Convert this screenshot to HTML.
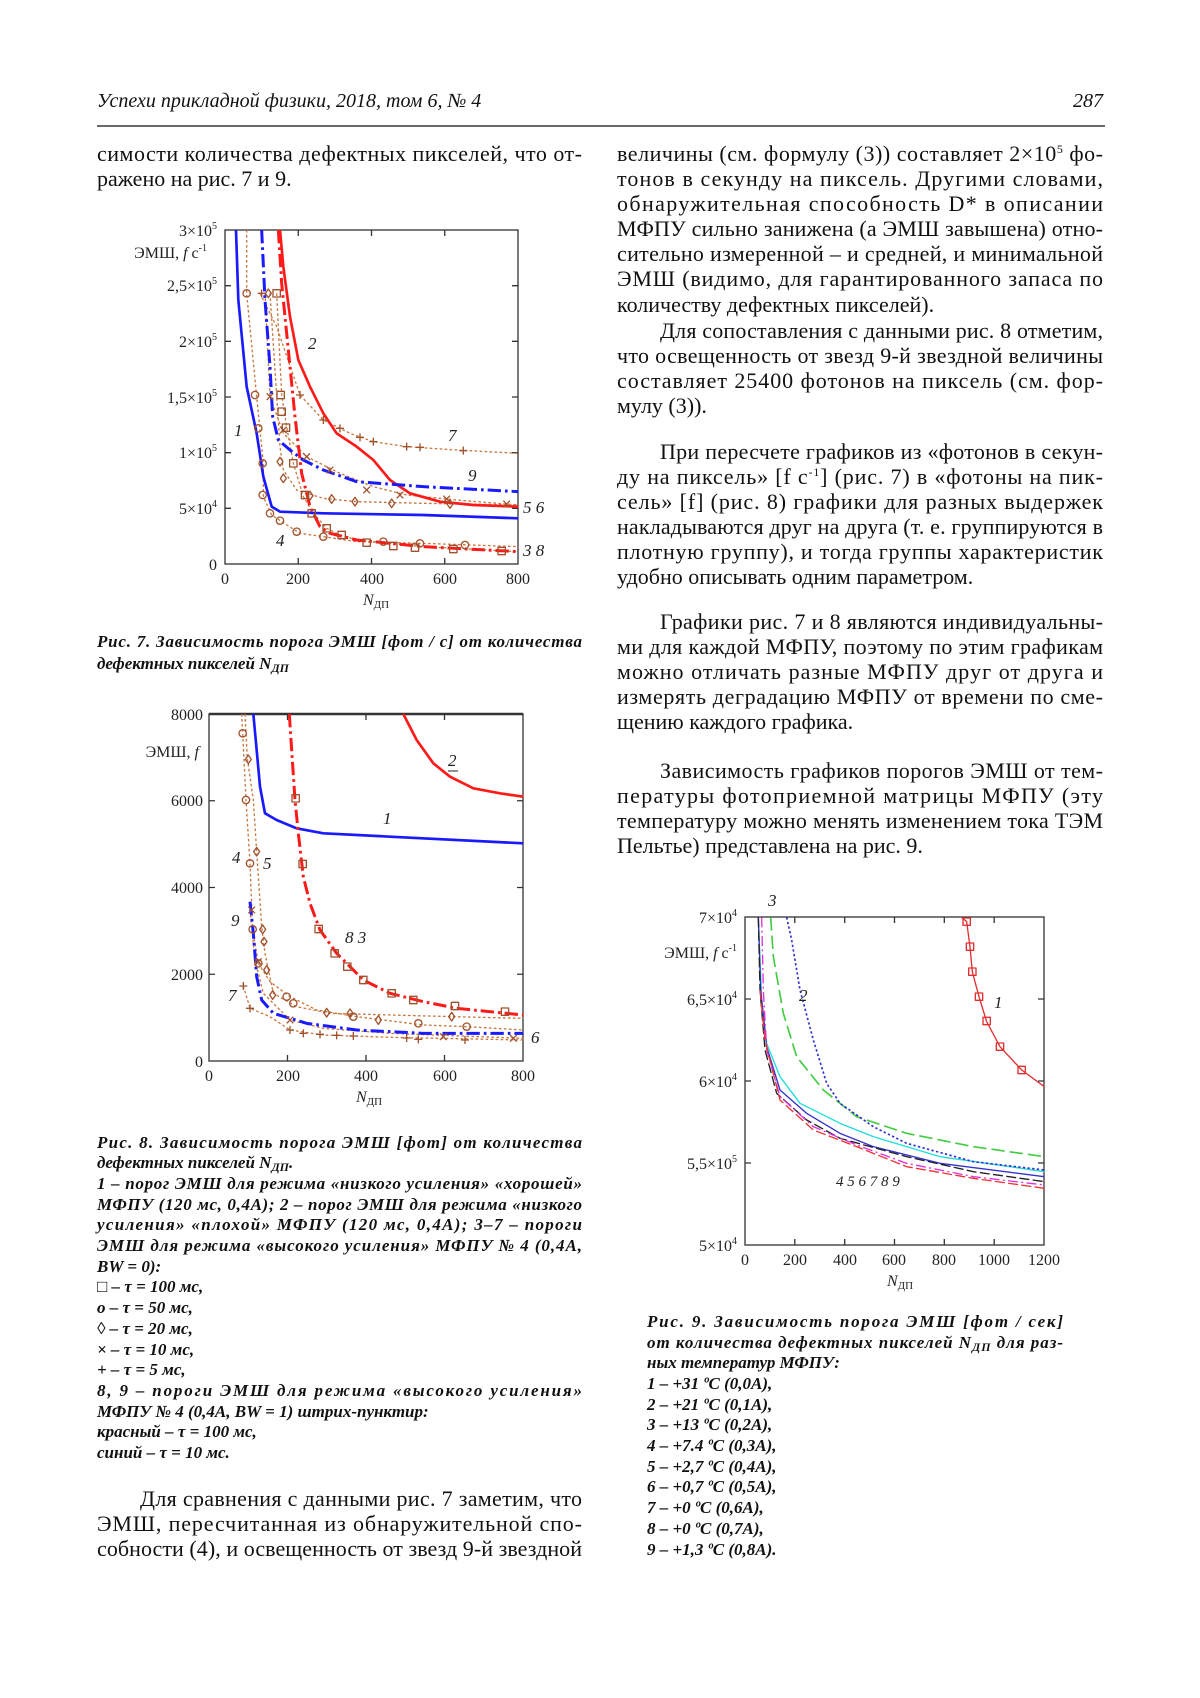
<!DOCTYPE html>
<html><head><meta charset="utf-8"><style>
html,body{margin:0;padding:0;background:#fff}
svg{display:block}
.t{font-family:"Liberation Serif",serif;font-size:22px;fill:#111}
.c{font-family:"Liberation Serif",serif;font-size:17px;font-weight:bold;font-style:italic;fill:#111}
.a{font-family:"Liberation Serif",serif;font-size:16px;fill:#222}
.l{font-family:"Liberation Serif",serif;font-size:17px;font-style:italic;fill:#222}
</style></head><body>
<svg width="1200" height="1698" viewBox="0 0 1200 1698" xmlns="http://www.w3.org/2000/svg">
<defs>
<g id="sq"><rect x="-11" y="-11" width="22" height="22" fill="none" stroke="#a0522d" stroke-width="4"/></g>
<g id="ci"><circle r="11" fill="none" stroke="#a0522d" stroke-width="4"/></g>
<g id="di"><path d="M0 -13 L9 0 L0 13 L-9 0Z" fill="none" stroke="#a0522d" stroke-width="4"/></g>
<g id="xx"><path d="M-10 -10 L10 10 M-10 10 L10 -10" stroke="#a0522d" stroke-width="4"/></g>
<g id="pl"><path d="M-12 0 L12 0 M0 -12 L0 12" stroke="#a0522d" stroke-width="4"/></g>
<g id="rs"><rect x="-11" y="-11" width="22" height="22" fill="none" stroke="#e03030" stroke-width="4"/></g>
</defs>

<text x="97" y="107" style="font-family:'Liberation Serif',serif;font-size:20px;font-style:italic" fill="#111">Успехи прикладной физики, 2018, том 6, № 4</text>
<text x="1103" y="107" text-anchor="end" style="font-family:'Liberation Serif',serif;font-size:20px;font-style:italic" fill="#111">287</text>
<line x1="97" y1="126" x2="1105" y2="126" stroke="#111" stroke-width="1.3"/>

<text class="t" x="97" y="161" textLength="485" lengthAdjust="spacing">симости количества дефектных пикселей, что от-</text>
<text class="t" x="97" y="186">ражено на рис. 7 и 9.</text>

<text class="c" x="97" y="647" textLength="485" lengthAdjust="spacing">Рис. 7. Зависимость порога ЭМШ [фот / с] от количества</text>
<text class="c" x="97" y="669">дефектных пикселей N<tspan font-size="12" dy="3">ДП</tspan></text>

<g class="c">
<text x="97" y="1148" textLength="485" lengthAdjust="spacing">Рис. 8. Зависимость порога ЭМШ [фот] от количества</text>
<text x="97" y="1168">дефектных пикселей N<tspan font-size="12" dy="3">ДП</tspan><tspan dy="-3">.</tspan></text>
<text x="97" y="1189" textLength="485" lengthAdjust="spacing">1 – порог ЭМШ для режима «низкого усиления» «хорошей»</text>
<text x="97" y="1210" textLength="485" lengthAdjust="spacing">МФПУ (120 мс, 0,4А); 2 – порог ЭМШ для режима «низкого</text>
<text x="97" y="1230" textLength="485" lengthAdjust="spacing">усиления» «плохой» МФПУ (120 мс, 0,4А); 3–7 – пороги</text>
<text x="97" y="1251" textLength="485" lengthAdjust="spacing">ЭМШ для режима «высокого усиления» МФПУ № 4 (0,4А,</text>
<text x="97" y="1272">BW = 0):</text>
<text x="97" y="1292">□ – τ = 100 мс,</text>
<text x="97" y="1313">о – τ = 50 мс,</text>
<text x="97" y="1334">◊ – τ = 20 мс,</text>
<text x="97" y="1355">× –  τ = 10 мс,</text>
<text x="97" y="1375">+ –  τ = 5 мс,</text>
<text x="97" y="1396" textLength="485" lengthAdjust="spacing">8, 9 – пороги ЭМШ для режима «высокого усиления»</text>
<text x="97" y="1417">МФПУ № 4 (0,4А, BW = 1) штрих-пунктир:</text>
<text x="97" y="1437">красный – τ = 100 мс,</text>
<text x="97" y="1458">синий – τ = 10 мс.</text>
</g>

<text class="t" x="140" y="1506" textLength="442" lengthAdjust="spacing">Для сравнения с данными рис. 7 заметим, что</text>
<text class="t" x="97" y="1531" textLength="485" lengthAdjust="spacing">ЭМШ, пересчитанная из обнаружительной спо-</text>
<text class="t" x="97" y="1556" textLength="485" lengthAdjust="spacing">собности (4), и освещенность от звезд 9-й звездной</text>

<g class="t">
<text x="617" y="161" textLength="486" lengthAdjust="spacing">величины (см. формулу (3)) составляет 2×10<tspan font-size="12" dy="-8">5</tspan><tspan dy="8"> фо-</tspan></text>
<text x="617" y="186" textLength="486" lengthAdjust="spacing">тонов в секунду на пиксель. Другими словами,</text>
<text x="617" y="211" textLength="486" lengthAdjust="spacing">обнаружительная способность D* в описании</text>
<text x="617" y="236" textLength="486" lengthAdjust="spacing">МФПУ сильно занижена (а ЭМШ завышена) отно-</text>
<text x="617" y="261" textLength="486" lengthAdjust="spacing">сительно измеренной – и средней, и минимальной</text>
<text x="617" y="286" textLength="486" lengthAdjust="spacing">ЭМШ (видимо, для гарантированного запаса по</text>
<text x="617" y="312">количеству дефектных пикселей).</text>
<text x="660" y="338" textLength="443" lengthAdjust="spacing">Для сопоставления с данными рис. 8 отметим,</text>
<text x="617" y="363" textLength="486" lengthAdjust="spacing">что освещенность от звезд 9-й звездной величины</text>
<text x="617" y="388" textLength="486" lengthAdjust="spacing">составляет  25400 фотонов на пиксель (см. фор-</text>
<text x="617" y="413">мулу (3)).</text>
<text x="660" y="459" textLength="443" lengthAdjust="spacing">При пересчете графиков из «фотонов в секун-</text>
<text x="617" y="484" textLength="486" lengthAdjust="spacing">ду на пиксель» [f c<tspan font-size="12" dy="-8">-1</tspan><tspan dy="8">] (рис. 7) в «фотоны на пик-</tspan></text>
<text x="617" y="509" textLength="486" lengthAdjust="spacing">сель»  [f] (рис. 8) графики для разных выдержек</text>
<text x="617" y="534" textLength="486" lengthAdjust="spacing">накладываются друг на друга (т. е. группируются в</text>
<text x="617" y="559" textLength="486" lengthAdjust="spacing">плотную группу), и тогда группы характеристик</text>
<text x="617" y="584">удобно описывать одним параметром.</text>
<text x="660" y="629" textLength="443" lengthAdjust="spacing">Графики рис. 7 и 8 являются индивидуальны-</text>
<text x="617" y="654" textLength="486" lengthAdjust="spacing">ми для каждой МФПУ, поэтому по этим графикам</text>
<text x="617" y="679" textLength="486" lengthAdjust="spacing">можно отличать разные МФПУ друг от друга и</text>
<text x="617" y="704" textLength="486" lengthAdjust="spacing">измерять деградацию МФПУ от времени  по сме-</text>
<text x="617" y="729">щению каждого графика.</text>
<text x="660" y="778" textLength="443" lengthAdjust="spacing">Зависимость графиков порогов ЭМШ от тем-</text>
<text x="617" y="803" textLength="486" lengthAdjust="spacing">пературы фотоприемной матрицы МФПУ (эту</text>
<text x="617" y="828" textLength="486" lengthAdjust="spacing">температуру можно менять изменением тока ТЭМ</text>
<text x="617" y="853">Пельтье) представлена на рис. 9.</text>
</g>

<g class="c">
<text x="647" y="1327" textLength="416" lengthAdjust="spacing">Рис. 9. Зависимость порога ЭМШ [фот / сек]</text>
<text x="647" y="1348" textLength="416" lengthAdjust="spacing">от количества дефектных пикселей N<tspan font-size="12" dy="3">ДП</tspan><tspan dy="-3"> для раз-</tspan></text>
<text x="647" y="1368">ных температур МФПУ:</text>
<text x="647" y="1389">1 – +31 ºС (0,0А),</text>
<text x="647" y="1410">2 – +21 ºС (0,1А),</text>
<text x="647" y="1430">3 – +13 ºС (0,2А),</text>
<text x="647" y="1451">4 – +7.4 ºС (0,3А),</text>
<text x="647" y="1472">5 – +2,7 ºС (0,4А),</text>
<text x="647" y="1492">6 – +0,7 ºС (0,5А),</text>
<text x="647" y="1513">7 – +0 ºС (0,6А),</text>
<text x="647" y="1534">8 – +0 ºС (0,7А),</text>
<text x="647" y="1555">9 – +1,3 ºС (0,8А).</text>
</g>

<!-- CHART 7 -->
<g stroke="#333" stroke-width="1.3" fill="none">
<rect x="225" y="230" width="293" height="334"/>
<path d="M225 285.7h6M225 341.3h6M225 397h6M225 452.7h6M225 508.3h6M518 285.7h-6M518 341.3h-6M518 397h-6M518 452.7h-6M518 508.3h-6M298.25 564v-6M371.5 564v-6M444.75 564v-6M298.25 230v6M371.5 230v6M444.75 230v6"/>
</g>
<g transform="translate(90,200) scale(0.33333)" fill="none" stroke-linejoin="round">
<polyline stroke="#c87941" stroke-width="4" stroke-dasharray="8 7" points="510,280 560,380 630,585 700,660 780,700 850,725 950,740 1100,750 1285,760"/>
<polyline stroke="#c87941" stroke-width="4" stroke-dasharray="8 7" points="525,280 540,590 580,700 650,770 750,820 850,860 950,885 1100,900 1285,915"/>
<polyline stroke="#c87941" stroke-width="4" stroke-dasharray="8 7" points="540,280 570,740 580,810 620,870 700,895 800,905 1000,910 1285,915"/>
<polyline stroke="#c87941" stroke-width="4" stroke-dasharray="8 7" points="470,90 470,280 500,590 510,690 520,790 520,890 545,945 575,965 630,1000 700,1010 800,1025 1000,1030 1285,1040"/>
<polyline stroke="#c87941" stroke-width="4" stroke-dasharray="8 7" points="560,280 575,585 590,680 610,790 640,890 670,940 710,985 750,1005 800,1020 1000,1040 1285,1055"/>
<polyline stroke="#1a1aff" stroke-width="8" points="438,90 445,300 470,560 500,700 520,830 545,920 570,935 700,940 1000,945 1285,955"/>
<polyline stroke="#ff1a1a" stroke-width="8" points="570,90 580,200 600,350 625,480 660,560 700,640 740,700 800,740 850,780 900,840 960,880 1050,905 1150,915 1285,920"/>
<polyline stroke="#1a1aff" stroke-width="9" stroke-dasharray="40 12 8 12" points="515,90 525,300 540,500 548,650 565,720 600,750 640,780 700,810 800,845 1000,860 1285,875"/>
<polyline stroke="#ff1a1a" stroke-width="9" stroke-dasharray="40 12 8 12" points="565,90 575,250 600,500 615,650 635,820 660,920 690,980 720,1000 800,1020 1000,1040 1285,1055"/>
<use href="#pl" x="630" y="585"/><use href="#pl" x="700" y="660"/><use href="#pl" x="750" y="685"/><use href="#pl" x="810" y="712"/><use href="#pl" x="850" y="725"/><use href="#pl" x="950" y="740"/><use href="#pl" x="990" y="742"/><use href="#pl" x="1120" y="752"/>
<use href="#xx" x="540" y="590"/><use href="#xx" x="580" y="690"/><use href="#xx" x="650" y="770"/><use href="#xx" x="720" y="810"/><use href="#xx" x="830" y="870"/><use href="#xx" x="930" y="885"/><use href="#xx" x="1070" y="897"/><use href="#xx" x="1250" y="912"/>
<use href="#di" x="570" y="785"/><use href="#di" x="580" y="835"/><use href="#di" x="660" y="887"/><use href="#di" x="725" y="897"/><use href="#di" x="795" y="905"/><use href="#di" x="905" y="910"/><use href="#di" x="1080" y="912"/>
<use href="#ci" x="470" y="280"/><use href="#ci" x="495" y="585"/><use href="#ci" x="505" y="685"/><use href="#ci" x="518" y="790"/><use href="#ci" x="518" y="885"/><use href="#ci" x="540" y="940"/><use href="#ci" x="570" y="962"/><use href="#ci" x="620" y="995"/><use href="#ci" x="700" y="1010"/><use href="#ci" x="880" y="1025"/><use href="#ci" x="990" y="1030"/><use href="#ci" x="1125" y="1035"/>
<use href="#sq" x="560" y="280"/><use href="#sq" x="572" y="585"/><use href="#sq" x="575" y="635"/><use href="#sq" x="588" y="683"/><use href="#sq" x="610" y="790"/><use href="#sq" x="645" y="885"/><use href="#sq" x="665" y="940"/><use href="#sq" x="710" y="985"/><use href="#sq" x="755" y="1005"/><use href="#sq" x="830" y="1028"/><use href="#sq" x="910" y="1038"/><use href="#sq" x="975" y="1043"/><use href="#sq" x="1090" y="1047"/><use href="#sq" x="1235" y="1053"/>
<use href="#di" x="535" y="280"/><use href="#pl" x="515" y="280"/>
</g>
<g class="a" text-anchor="end">
<text x="217" y="236">3×10<tspan font-size="10" dy="-7">5</tspan></text>
<text x="217" y="291">2,5×10<tspan font-size="10" dy="-7">5</tspan></text>
<text x="217" y="347">2×10<tspan font-size="10" dy="-7">5</tspan></text>
<text x="217" y="403">1,5×10<tspan font-size="10" dy="-7">5</tspan></text>
<text x="217" y="458">1×10<tspan font-size="10" dy="-7">5</tspan></text>
<text x="217" y="514">5×10<tspan font-size="10" dy="-7">4</tspan></text>
<text x="217" y="570">0</text>
<text x="207" y="258">ЭМШ, <tspan font-style="italic">f</tspan> c<tspan font-size="10" dy="-7">-1</tspan></text>
</g>
<g class="a" text-anchor="middle">
<text x="225" y="584">0</text><text x="298" y="584">200</text><text x="372" y="584">400</text><text x="445" y="584">600</text><text x="518" y="584">800</text>
<text x="376" y="605"><tspan font-style="italic">N</tspan><tspan font-size="11" dy="3">ДП</tspan></text>
</g>
<g class="l">
<text x="234" y="436">1</text><text x="308" y="349">2</text><text x="448" y="441">7</text><text x="468" y="481">9</text><text x="523" y="513">5 6</text><text x="276" y="546">4</text><text x="523" y="556">3 8</text>
</g>

<!-- CHART 8 -->
<g stroke="#333" stroke-width="1.3" fill="none">
<rect x="209" y="714" width="314" height="347"/>
<path d="M209 800.75h6M209 887.5h6M209 974.25h6M523 800.75h-6M523 887.5h-6M523 974.25h-6M287.5 1061v-6M366 1061v-6M444.5 1061v-6M287.5 714v6M366 714v6M444.5 714v6"/>
<path d="M209 714h314" stroke-width="2.5"/>
</g>
<g transform="translate(90,700) scale(0.33333)" fill="none" stroke-linejoin="round">
<polyline stroke="#c87941" stroke-width="4" stroke-dasharray="8 7" points="455,42 458,100 468,300 480,490 488,690 505,790 540,845 600,890 680,930 800,950 1000,975 1130,980 1300,990"/>
<polyline stroke="#c87941" stroke-width="4" stroke-dasharray="8 7" points="465,42 472,175 490,300 500,455 515,680 525,760 550,880 620,920 720,940 900,945 1090,950 1300,955"/>
<polyline stroke="#c87941" stroke-width="4" stroke-dasharray="8 7" points="480,630 495,780 520,880 600,960 700,985 900,1000 1300,1015"/>
<polyline stroke="#c87941" stroke-width="4" stroke-dasharray="8 7" points="460,858 480,925 540,950 600,990 700,1005 900,1012 1300,1020"/>
<polyline stroke="#1a1aff" stroke-width="8" points="490,42 500,150 510,260 525,340 560,360 620,385 700,400 900,410 1300,430"/>
<polyline stroke="#ff1a1a" stroke-width="8" points="940,42 980,120 1030,190 1080,230 1150,265 1230,280 1300,290"/>
<polyline stroke="#ff1a1a" stroke-width="9" stroke-dasharray="40 12 8 12" points="598,42 605,150 615,300 625,400 640,530 660,610 690,690 740,760 820,840 900,880 1000,905 1100,925 1300,945"/>
<polyline stroke="#1a1aff" stroke-width="9" stroke-dasharray="40 12 8 12" points="480,605 490,700 500,830 515,900 550,940 650,970 800,990 1000,1000 1300,1000"/>
<use href="#sq" x="617" y="295"/><use href="#sq" x="638" y="492"/><use href="#sq" x="686" y="687"/><use href="#sq" x="734" y="760"/><use href="#sq" x="772" y="800"/><use href="#sq" x="820" y="840"/><use href="#sq" x="905" y="880"/><use href="#sq" x="970" y="900"/><use href="#sq" x="1095" y="918"/><use href="#sq" x="1245" y="935"/>
<use href="#ci" x="458" y="100"/><use href="#ci" x="468" y="300"/><use href="#ci" x="480" y="490"/><use href="#ci" x="488" y="688"/><use href="#ci" x="505" y="790"/><use href="#ci" x="590" y="890"/><use href="#ci" x="610" y="910"/><use href="#ci" x="790" y="950"/><use href="#ci" x="985" y="970"/><use href="#ci" x="1130" y="980"/>
<use href="#di" x="475" y="178"/><use href="#di" x="500" y="455"/><use href="#di" x="518" y="688"/><use href="#di" x="522" y="725"/><use href="#di" x="530" y="810"/><use href="#di" x="548" y="885"/><use href="#di" x="710" y="938"/><use href="#di" x="780" y="940"/><use href="#di" x="865" y="960"/><use href="#di" x="1085" y="950"/>
<use href="#xx" x="485" y="630"/><use href="#xx" x="505" y="785"/><use href="#xx" x="600" y="960"/><use href="#xx" x="1060" y="1010"/><use href="#xx" x="1270" y="1015"/>
<use href="#pl" x="460" y="858"/><use href="#pl" x="480" y="925"/><use href="#pl" x="600" y="990"/><use href="#pl" x="640" y="1000"/><use href="#pl" x="690" y="1003"/><use href="#pl" x="740" y="1006"/><use href="#pl" x="790" y="1008"/><use href="#pl" x="950" y="1014"/><use href="#pl" x="985" y="1018"/><use href="#pl" x="1125" y="1020"/>
</g>
<g class="a" text-anchor="end">
<text x="203" y="720">8000</text><text x="203" y="806">6000</text><text x="203" y="893">4000</text><text x="203" y="980">2000</text><text x="203" y="1067">0</text>
<text x="199" y="757">ЭМШ, <tspan font-style="italic">f</tspan></text>
</g>
<g class="a" text-anchor="middle">
<text x="209" y="1081">0</text><text x="288" y="1081">200</text><text x="366" y="1081">400</text><text x="445" y="1081">600</text><text x="523" y="1081">800</text>
<text x="369" y="1102"><tspan font-style="italic">N</tspan><tspan font-size="11" dy="3">ДП</tspan></text>
</g>
<g class="l">
<text x="448" y="766">2</text><line x1="448" y1="771" x2="458" y2="771" stroke="#222" stroke-width="1"/>
<text x="383" y="824">1</text><text x="232" y="863">4</text><text x="263" y="869">5</text><text x="231" y="926">9</text><text x="345" y="943">8 3</text><text x="228" y="1001">7</text><text x="531" y="1043">6</text>
</g>

<!-- CHART 9 -->
<g stroke="#333" stroke-width="1.3" fill="none">
<rect x="745" y="917" width="299" height="328"/>
<path d="M745 999h6M745 1081h6M745 1163h6M1044 999h-6M1044 1081h-6M1044 1163h-6M794.8 1245v-6M844.7 1245v-6M894.5 1245v-6M944.3 1245v-6M994.2 1245v-6M794.8 917v6M844.7 917v6M894.5 917v6M944.3 917v6M994.2 917v6"/>
</g>
<g transform="translate(640,890) scale(0.33333)" fill="none" stroke-linejoin="round">
<polyline stroke="#22dddd" stroke-width="4" points="355,82 365,330 380,460 420,560 480,640 600,700 700,740 900,800 1213,845"/>
<polyline stroke="#3333cc" stroke-width="4" points="355,82 362,300 380,470 420,600 500,670 600,730 700,770 900,820 1213,860"/>
<polyline stroke="#222" stroke-width="4" stroke-dasharray="30 10" points="355,82 360,300 375,480 410,610 500,690 600,745 800,800 1000,845 1213,875"/>
<polyline stroke="#dd33dd" stroke-width="4" stroke-dasharray="30 10 6 10" points="365,82 370,300 380,480 420,620 520,710 650,765 800,820 1000,860 1213,885"/>
<polyline stroke="#ee3333" stroke-width="4" stroke-dasharray="30 10" points="360,300 375,450 420,630 520,720 650,770 800,830 1000,865 1213,895"/>
<polyline stroke="#44cc44" stroke-width="5" stroke-dasharray="40 15" points="392,82 400,200 430,370 470,500 550,600 650,680 800,730 1000,770 1213,800"/>
<polyline stroke="#3333cc" stroke-width="5" stroke-dasharray="7 7" points="440,82 455,150 480,300 520,450 560,580 600,640 700,710 800,760 1000,815 1213,840"/>
<polyline stroke="#e03030" stroke-width="4" points="965,82 980,95 990,170 997,245 1017,320 1040,395 1080,470 1145,540 1213,590"/>
<use href="#rs" x="980" y="95"/><use href="#rs" x="990" y="170"/><use href="#rs" x="997" y="245"/><use href="#rs" x="1017" y="320"/><use href="#rs" x="1040" y="393"/><use href="#rs" x="1080" y="470"/><use href="#rs" x="1145" y="540"/>
</g>
<g class="a" text-anchor="end">
<text x="737" y="923">7×10<tspan font-size="10" dy="-7">4</tspan></text>
<text x="737" y="1005">6,5×10<tspan font-size="10" dy="-7">4</tspan></text>
<text x="737" y="1087">6×10<tspan font-size="10" dy="-7">4</tspan></text>
<text x="737" y="1169">5,5×10<tspan font-size="10" dy="-7">5</tspan></text>
<text x="737" y="1251">5×10<tspan font-size="10" dy="-7">4</tspan></text>
<text x="737" y="958">ЭМШ, <tspan font-style="italic">f</tspan> c<tspan font-size="10" dy="-7">-1</tspan></text>
</g>
<g class="a" text-anchor="middle">
<text x="745" y="1265">0</text><text x="795" y="1265">200</text><text x="845" y="1265">400</text><text x="894" y="1265">600</text><text x="944" y="1265">800</text><text x="994" y="1265">1000</text><text x="1044" y="1265">1200</text>
<text x="900" y="1286"><tspan font-style="italic">N</tspan><tspan font-size="11" dy="3">ДП</tspan></text>
</g>
<g class="l">
<text x="768" y="906">3</text><text x="799" y="1001">2</text><text x="994" y="1008">1</text><text x="836" y="1186" font-size="15">4 5 6 7 8 9</text>
</g>
</svg>
</body></html>
